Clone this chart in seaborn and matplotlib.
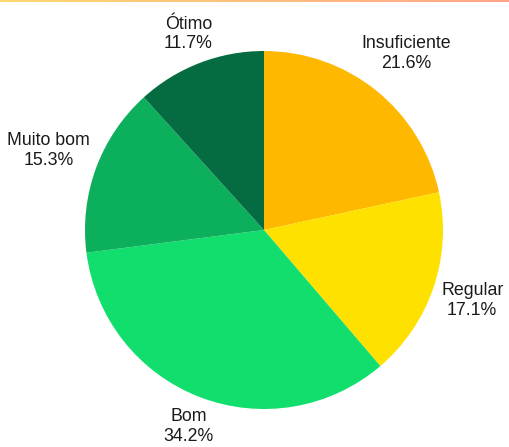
import numpy as np
import matplotlib
matplotlib.use("Agg")
import matplotlib.pyplot as plt
import seaborn as sns
from matplotlib.colors import LinearSegmentedColormap

sns.set_theme(style="white")
plt.rcParams['font.family'] = ['Liberation Sans', 'DejaVu Sans']

categories = ["Insuficiente", "Regular", "Bom", "Muito bom", "Ótimo"]
shares = [21.6, 17.1, 34.2, 15.3, 11.7]
colors = ["#FFB800", "#FFE100", "#12DE6E", "#0BAF5C", "#056B40"]

W, H = 510, 447
cx, cy, r = 264, 230, 179

fig = plt.figure(figsize=(W / 100, H / 100), dpi=100)
ax = fig.add_axes([0, 0, 1, 1])

wedges, _ = ax.pie(shares, colors=colors, startangle=90, counterclock=False,
                   labeldistance=None, wedgeprops=dict(linewidth=0))

ax.set_xlim(-cx / r, (W - cx) / r)
ax.set_ylim(-(H - cy) / r, cy / r)
ax.set_aspect("auto")
ax.axis("off")

# labels sit just outside the rim, pushed out by their own size
renderer = fig.canvas.get_renderer()
for w, c, s in zip(wedges, categories, shares):
    t = ax.text(0, 0, f"{c}\n{s:.1f}%", ha="center", va="center",
                fontsize=12.8, color="#1a1a1a", linespacing=1.2)
    bb = t.get_window_extent(renderer)
    ang = np.deg2rad((w.theta1 + w.theta2) / 2)
    push = abs(np.cos(ang)) * bb.width / 2 + abs(np.sin(ang)) * bb.height / 2
    d = 1.03 + push / r
    t.set_position((d * np.cos(ang), d * np.sin(ang)))

# thin gradient strip along the top
bar = fig.add_axes([0, 1 - 2.5 / H, 1, 2.5 / H])
cmap = LinearSegmentedColormap.from_list("top", ["#FFD970", "#FFA58A"])
bar.imshow(np.linspace(0, 1, 256)[None, :], aspect="auto", cmap=cmap)
bar.axis("off")

fig.savefig("out.png", dpi=100)
